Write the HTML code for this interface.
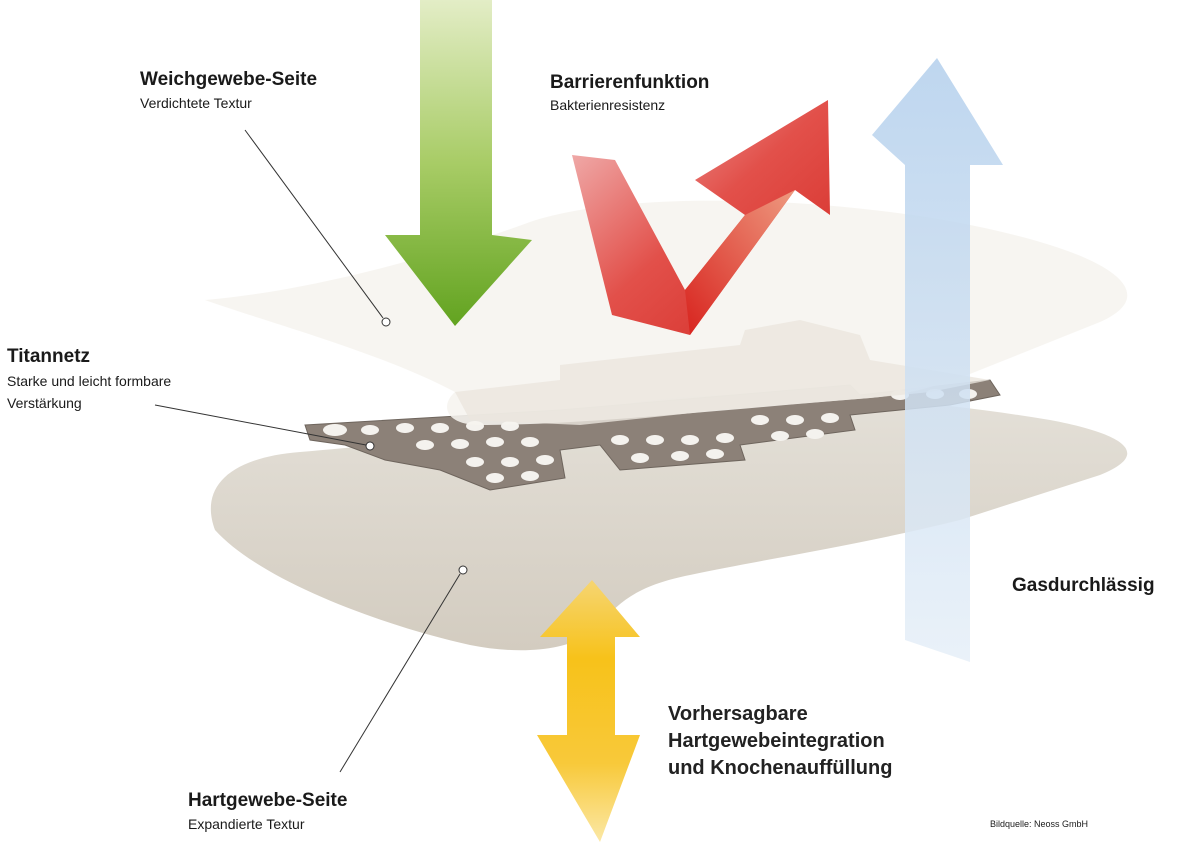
<!DOCTYPE html>
<html><head><meta charset="utf-8"><style>
html,body{margin:0;padding:0;background:#fff;}
svg{display:block}
text{font-family:"Liberation Sans",sans-serif;fill:#1a1a1a}
.b{font-weight:bold;font-size:19px}
.s{font-size:14px}
.l{font-size:20px;font-weight:bold;fill:#222}
</style></head><body>
<svg width="1192" height="848" viewBox="0 0 1192 848" xmlns="http://www.w3.org/2000/svg">
<defs>
<linearGradient id="gG" x1="0" y1="0" x2="0" y2="1"><stop offset="0" stop-color="#e3edc6"/><stop offset="0.5" stop-color="#a8cc66"/><stop offset="1" stop-color="#62a320"/></linearGradient>
<linearGradient id="gR" x1="0" y1="0" x2="1" y2="1"><stop offset="0" stop-color="#f3c3c3"/><stop offset="0.5" stop-color="#e2504a"/><stop offset="1" stop-color="#d42a24"/></linearGradient>
<linearGradient id="gR2" x1="0" y1="1" x2="1" y2="0"><stop offset="0" stop-color="#d8231e"/><stop offset="1" stop-color="#ee9a80"/></linearGradient>
<linearGradient id="gB" x1="0" y1="0" x2="0" y2="1"><stop offset="0" stop-color="#b3cfec"/><stop offset="1" stop-color="#e6eff8"/></linearGradient>
<linearGradient id="gY" x1="0" y1="0" x2="0" y2="1"><stop offset="0" stop-color="#f6d572"/><stop offset="0.3" stop-color="#f7c21a"/><stop offset="0.7" stop-color="#f8c93a"/><stop offset="1" stop-color="#fbe8a6"/></linearGradient>
<linearGradient id="gM" x1="0" y1="0" x2="0" y2="1"><stop offset="0" stop-color="#e4e0d8"/><stop offset="1" stop-color="#d3ccc0"/></linearGradient>
</defs>
<!-- bottom membrane -->
<path d="M215,530 C200,490 225,458 300,452 C450,440 560,420 620,405 C720,385 900,395 1050,420 C1130,435 1150,455 1100,475 L960,520 C860,545 760,560 690,575 C640,585 620,600 600,625 C575,652 520,655 470,645 C380,625 260,580 215,530 Z" fill="url(#gM)"/>
<!-- mesh -->
<g fill="#8c8178" stroke="#6e655d" stroke-width="1">
<path d="M305,425 L560,410 L850,385 L860,395 L990,380 L1000,395 L950,405 L850,415 L855,430 L740,445 L745,460 L620,470 L600,445 L560,450 L565,478 L490,490 L440,470 L385,460 L345,445 L310,440 Z"/>
</g>
<g fill="#f4f2ee">
<ellipse cx="335" cy="430" rx="12" ry="6"/><ellipse cx="370" cy="430" rx="9" ry="5"/><ellipse cx="405" cy="428" rx="9" ry="5"/><ellipse cx="440" cy="428" rx="9" ry="5"/><ellipse cx="475" cy="426" rx="9" ry="5"/><ellipse cx="510" cy="426" rx="9" ry="5"/>
<ellipse cx="425" cy="445" rx="9" ry="5"/><ellipse cx="460" cy="444" rx="9" ry="5"/><ellipse cx="495" cy="442" rx="9" ry="5"/><ellipse cx="530" cy="442" rx="9" ry="5"/>
<ellipse cx="475" cy="462" rx="9" ry="5"/><ellipse cx="510" cy="462" rx="9" ry="5"/><ellipse cx="545" cy="460" rx="9" ry="5"/>
<ellipse cx="495" cy="478" rx="9" ry="5"/><ellipse cx="530" cy="476" rx="9" ry="5"/>
<ellipse cx="620" cy="440" rx="9" ry="5"/><ellipse cx="655" cy="440" rx="9" ry="5"/><ellipse cx="690" cy="440" rx="9" ry="5"/><ellipse cx="725" cy="438" rx="9" ry="5"/>
<ellipse cx="640" cy="458" rx="9" ry="5"/><ellipse cx="680" cy="456" rx="9" ry="5"/><ellipse cx="715" cy="454" rx="9" ry="5"/>
<ellipse cx="760" cy="420" rx="9" ry="5"/><ellipse cx="795" cy="420" rx="9" ry="5"/><ellipse cx="830" cy="418" rx="9" ry="5"/>
<ellipse cx="780" cy="436" rx="9" ry="5"/><ellipse cx="815" cy="434" rx="9" ry="5"/>
<ellipse cx="900" cy="395" rx="9" ry="5"/><ellipse cx="935" cy="394" rx="9" ry="5"/><ellipse cx="968" cy="394" rx="9" ry="5"/>
</g>
<!-- top membrane -->
<path d="M205,300 C300,292 420,262 530,222 C640,185 900,198 1050,245 C1130,270 1150,300 1100,322 L980,370 C930,390 900,395 870,398 C720,410 580,425 480,425 C445,425 440,405 455,392 C380,352 260,320 205,300 Z" fill="#f6f4ef" fill-opacity="0.88"/>
<!-- mesh under top membrane (faint) -->
<g fill="#ebe6df" opacity="0.8">
<path d="M560,365 L740,345 L745,330 L800,320 L860,335 L870,360 L990,380 L930,392 L870,398 L720,410 L580,425 L470,420 L455,392 L560,380 Z"/>
</g>
<!-- green arrow -->
<path d="M420,0 L492,0 L492,235 L532,240 L455,326 L385,235 L420,235 Z" fill="url(#gG)"/>
<!-- red arrow -->
<path d="M572,155 L615,160 L685,290 L745,215 L695,180 L828,100 L830,215 L795,190 L690,335 L612,315 Z" fill="url(#gR)"/>
<path d="M685,290 L745,215 L795,190 L690,335 Z" fill="url(#gR2)"/>
<!-- blue arrow -->
<path d="M937,58 L1003,165 L970,165 L970,662 L905,640 L905,165 L872,135 Z" fill="url(#gB)" fill-opacity="0.85"/>
<!-- yellow arrow -->
<path d="M592,580 L640,637 L615,637 L615,735 L640,735 L600,842 L537,735 L567,735 L567,637 L540,637 Z" fill="url(#gY)"/>
<!-- leader lines -->
<g stroke="#333" stroke-width="1" fill="#fff">
<line x1="245" y1="130" x2="383" y2="318"/><circle cx="386" cy="322" r="4"/>
<line x1="155" y1="405" x2="366" y2="445"/><circle cx="370" cy="446" r="4"/>
<line x1="340" y1="772" x2="460" y2="574"/><circle cx="463" cy="570" r="4"/>
</g>
<text class="b" x="140" y="85">Weichgewebe-Seite</text>
<text class="s" x="140" y="108">Verdichtete Textur</text>
<text class="b" x="550" y="88">Barrierenfunktion</text>
<text class="s" x="550" y="110">Bakterienresistenz</text>
<text class="b" x="7" y="362">Titannetz</text>
<text class="s" x="7" y="386">Starke und leicht formbare</text>
<text class="s" x="7" y="408">Verstärkung</text>
<text class="b" x="1012" y="591">Gasdurchlässig</text>
<text class="l" x="668" y="720">Vorhersagbare</text>
<text class="l" x="668" y="747">Hartgewebeintegration</text>
<text class="l" x="668" y="774">und Knochenauffüllung</text>
<text class="b" x="188" y="806">Hartgewebe-Seite</text>
<text class="s" x="188" y="829">Expandierte Textur</text>
<text x="990" y="827" style="font-size:9px">Bildquelle: Neoss GmbH</text>
</svg>
</body></html>
